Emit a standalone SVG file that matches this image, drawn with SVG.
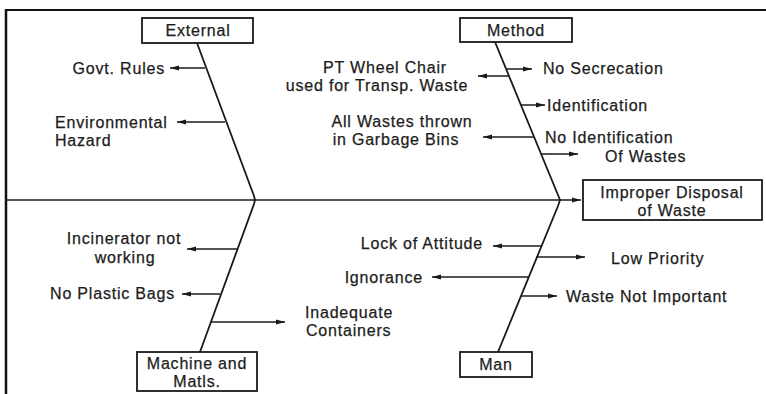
<svg xmlns="http://www.w3.org/2000/svg" width="766" height="394" viewBox="0 0 766 394">
<defs>
<marker id="ah" markerUnits="userSpaceOnUse" markerWidth="10" markerHeight="6" refX="9" refY="3" orient="auto">
<path d="M0,0.4 L9,3 L0,5.6 z" fill="#1a1a1a"/>
</marker>
<style>
text{font-family:"Liberation Sans",Arial,sans-serif;font-size:16px;letter-spacing:0.8px;fill:#1c1c1c;stroke:#1c1c1c;stroke-width:0.25}
.m{text-anchor:middle}.e{text-anchor:end}
.box{fill:#fff;stroke:#1a1a1a;stroke-width:1.8}
.sp{stroke:#1a1a1a;stroke-width:1.8;fill:none}
.ar{stroke:#1a1a1a;stroke-width:1.5;fill:none;marker-end:url(#ah)}
</style>
</defs>
<rect width="766" height="394" fill="#fff"/>
<g id="frame" fill="none" stroke="#111">
<line x1="5" y1="10" x2="766" y2="10" stroke-width="2"/>
<line x1="6" y1="9" x2="6" y2="394" stroke-width="2.5"/>
</g>
<g id="connectors">
<line class="ar" x1="6" y1="200" x2="581" y2="200"/>
<polyline class="sp" points="197,43 254,196 255,200 254,204 200,352"/>
<polyline class="sp" points="495,42 558,195 560,200 558,206 498,352"/>
<line class="ar" x1="205" y1="68" x2="170" y2="68"/>
<line class="ar" x1="225" y1="122" x2="177" y2="122"/>
<line class="ar" x1="507" y1="69" x2="532" y2="69"/>
<line class="ar" x1="509" y1="76" x2="478" y2="76"/>
<line class="ar" x1="521" y1="105" x2="545" y2="105"/>
<line class="ar" x1="534" y1="137" x2="483" y2="137"/>
<line class="ar" x1="541" y1="154" x2="578" y2="154"/>
<line class="ar" x1="237" y1="249" x2="187" y2="249"/>
<line class="ar" x1="220" y1="294" x2="182" y2="294"/>
<line class="ar" x1="211" y1="322" x2="285" y2="322"/>
<line class="ar" x1="541" y1="246" x2="493" y2="246"/>
<line class="ar" x1="536" y1="257" x2="585" y2="257"/>
<line class="ar" x1="528" y1="277" x2="432" y2="277"/>
<line class="ar" x1="521" y1="296" x2="557" y2="296"/>
</g>
<g id="external"><rect class="box" x="142" y="18" width="111" height="25"/><text class="m" x="198" y="36">External</text></g>
<g id="method"><rect class="box" x="460" y="18" width="112" height="24"/><text class="m" x="516" y="35.5">Method</text></g>
<g id="effect"><rect class="box" x="583" y="180" width="179" height="40"/><text class="m" x="672" y="198">Improper Disposal</text><text class="m" x="672" y="216">of Waste</text></g>
<g id="machine"><rect class="box" x="137" y="352" width="120" height="39"/><text class="m" x="197" y="369">Machine and</text><text class="m" x="197" y="387">Matls.</text></g>
<g id="man"><rect class="box" x="460" y="352" width="72" height="25"/><text class="m" x="496" y="370">Man</text></g>
<g id="causes">
<text class="e" x="165" y="74">Govt. Rules</text>
<text x="55" y="128">Environmental</text>
<text x="55" y="146">Hazard</text>
<text class="m" x="385" y="73">PT Wheel Chair</text>
<text class="m" x="377" y="91">used for Transp. Waste</text>
<text class="m" x="402" y="127">All Wastes thrown</text>
<text class="m" x="396" y="145">in Garbage Bins</text>
<text x="543" y="74">No Secrecation</text>
<text x="547" y="111">Identification</text>
<text x="545" y="143">No Identification</text>
<text x="605" y="162">Of Wastes</text>
<text class="m" x="124" y="244">Incinerator not</text>
<text class="m" x="125" y="263">working</text>
<text class="e" x="175" y="299">No Plastic Bags</text>
<text x="305" y="318">Inadequate</text>
<text x="306" y="336">Containers</text>
<text class="e" x="483" y="249">Lock of Attitude</text>
<text class="e" x="423" y="283">Ignorance</text>
<text x="611" y="264">Low Priority</text>
<text x="566" y="302">Waste Not Important</text>
</g>
</svg>
